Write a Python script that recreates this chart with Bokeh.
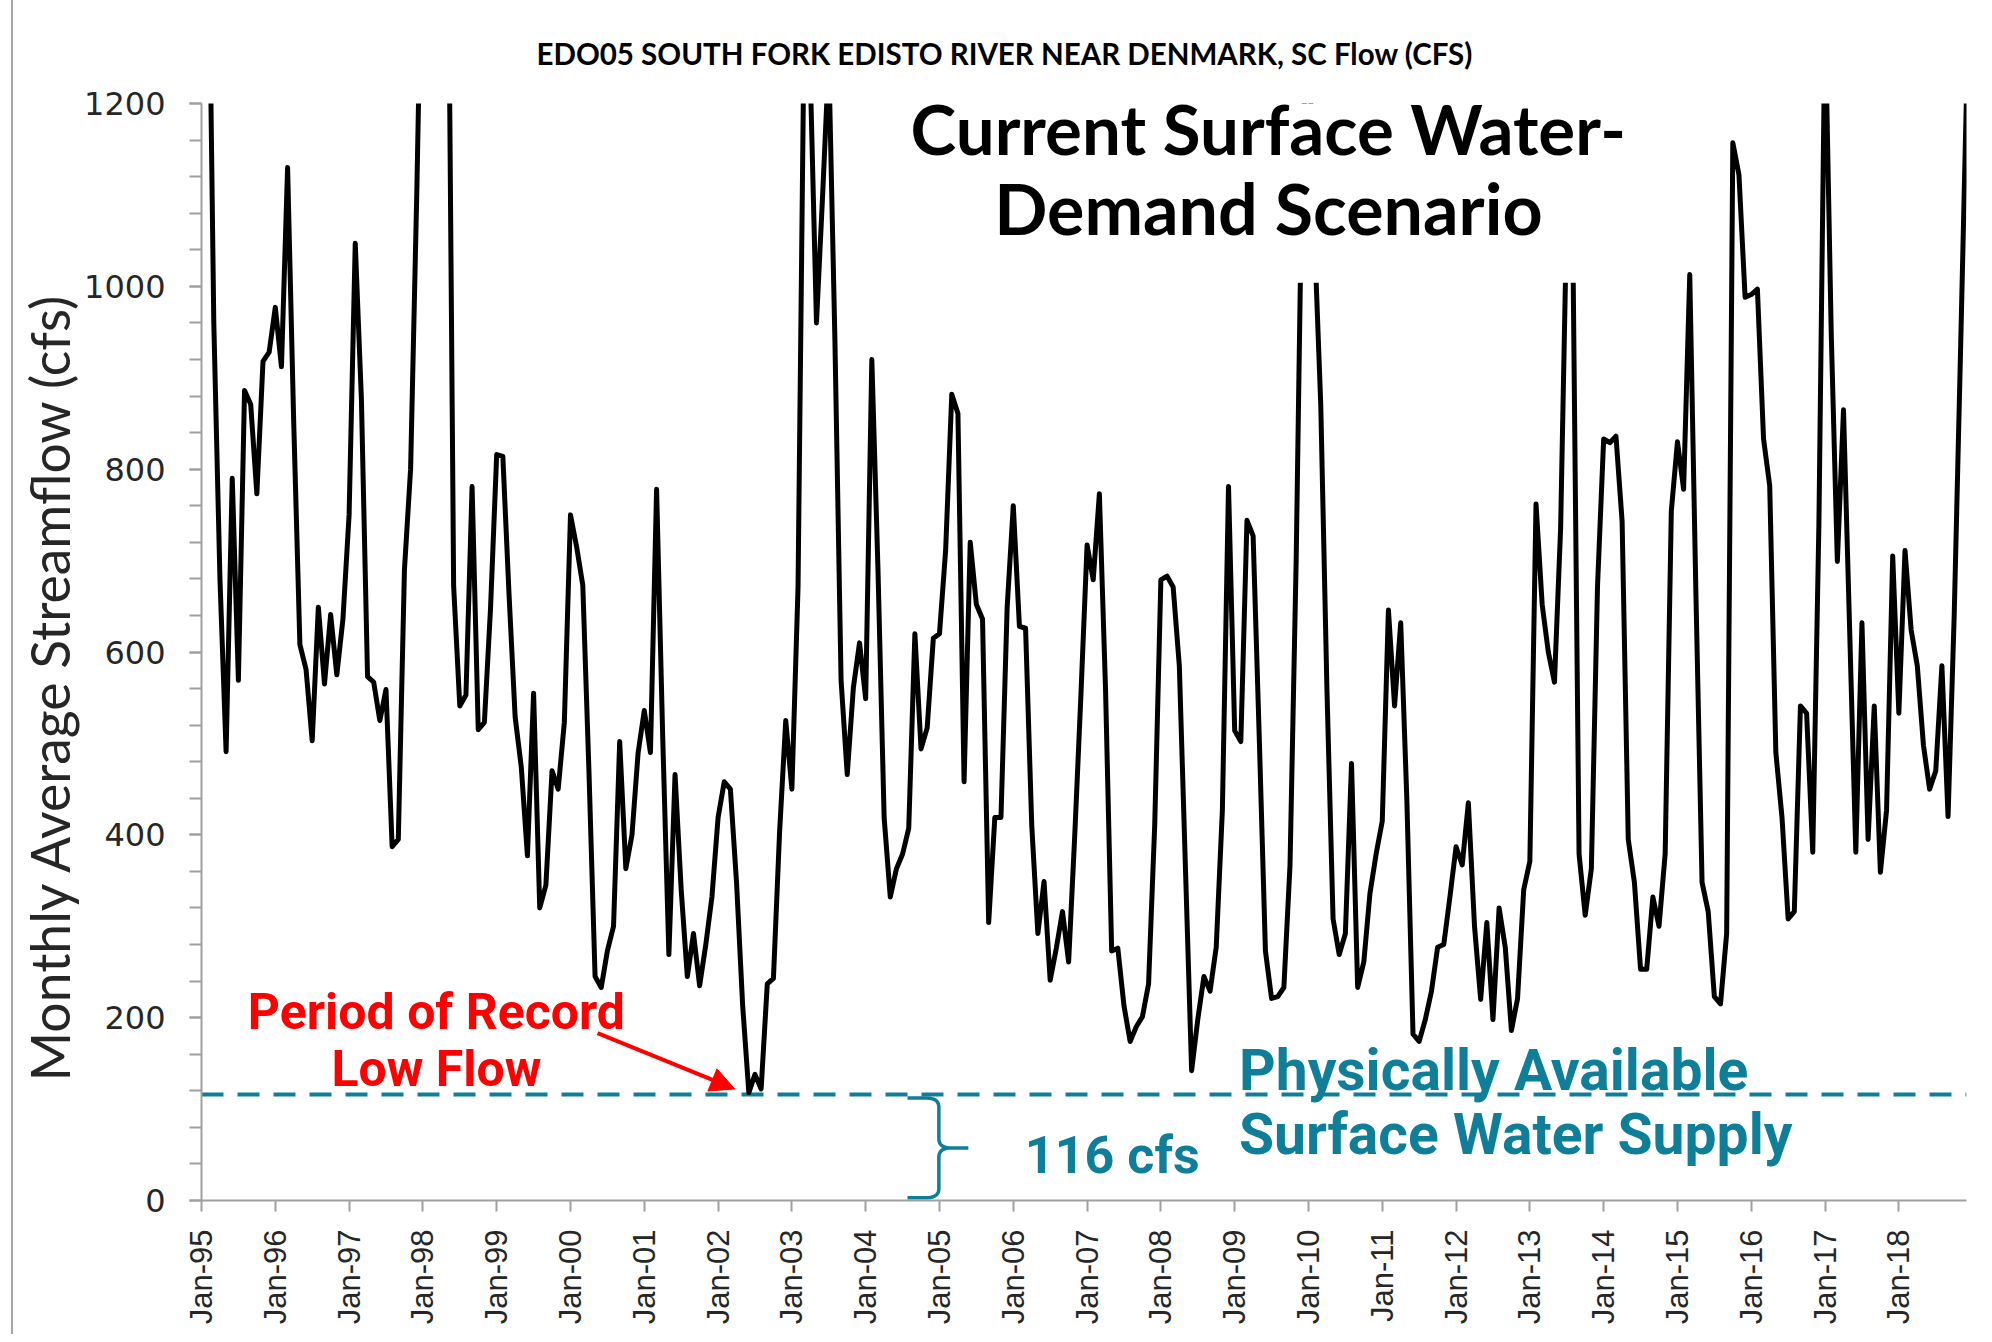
import math
import numpy as np
from bokeh.plotting import figure
from bokeh.models import (Range1d, SingleIntervalTicker, FixedTicker, Label, Arrow,
                          NormalHead, BoxAnnotation, Span, Title)
from bokeh.embed import file_html
from bokeh.resources import INLINE

# ---- data (monthly average streamflow, cfs, Jan-1995 .. Dec-2018) ----
flow_cfs = [
    1700, 1480, 960, 680, 491, 790, 569, 886, 871, 773, 918, 928,      # 1995
    977, 912, 1130, 850, 608, 581, 503, 649, 565, 641, 575, 636,       # 1996
    750, 1047, 877, 573, 567, 525, 559, 387, 395, 690, 800, 1100,      # 1997
    1450, 1900, 2100, 1800, 1500, 672, 541, 553, 781, 515, 523, 648,   # 1998
    816, 814, 664, 529, 474, 377, 555, 320, 345, 470, 450, 523,        # 1999
    750, 715, 673, 470, 245, 233, 273, 300, 502, 363, 400, 490,        # 2000
    536, 490, 778, 506, 269, 466, 340, 245, 292, 235, 280, 332,        # 2001
    419, 458, 450, 348, 213, 118, 138, 122, 237, 243, 403, 525,        # 2002
    450, 671, 1290, 1230, 960, 1100, 1250, 940, 569, 466, 561, 610,    # 2003
    549, 920, 690, 419, 332, 363, 379, 407, 620, 494, 517, 615,        # 2004
    620, 711, 882, 861, 458, 720, 652, 636, 304, 419, 419, 648,        # 2005
    760, 628, 626, 411, 292, 349, 241, 276, 316, 261, 400, 553,        # 2006
    717, 679, 773, 560, 273, 276, 213, 174, 190, 201, 237, 411,        # 2007
    679, 683, 671, 585, 363, 142, 198, 245, 229, 277, 427, 781,        # 2008
    514, 502, 744, 727, 506, 273, 221, 223, 233, 367, 700, 1150,       # 2009
    1300, 1050, 870, 560, 308, 269, 292, 478, 233, 261, 336, 379,      # 2010
    415, 646, 541, 632, 438, 182, 174, 198, 229, 277, 280, 332,        # 2011
    387, 367, 435, 300, 220, 304, 198, 320, 277, 186, 221, 340,        # 2012
    371, 762, 652, 600, 567, 735, 1080, 1040, 379, 312, 363, 672,      # 2013
    833, 829, 836, 743, 395, 348, 253, 253, 332, 300, 379, 754,        # 2014
    830, 778, 1013, 664, 348, 316, 223, 215, 292, 1157, 1122, 988,     # 2015
    991, 997, 833, 782, 490, 419, 308, 316, 541, 533, 381, 740,        # 2016
    1300, 950, 699, 865, 624, 381, 632, 395, 541, 359, 427, 705,       # 2017
    533, 711, 624, 585, 498, 450, 470, 585, 420, 640, 920, 1210,       # 2018
]
month_index = list(range(len(flow_cfs)))

year_tick_labels = ["Jan-95", "Jan-96", "Jan-97", "Jan-98", "Jan-99", "Jan-00",
                    "Jan-01", "Jan-02", "Jan-03", "Jan-04", "Jan-05", "Jan-06",
                    "Jan-07", "Jan-08", "Jan-09", "Jan-10", "Jan-11", "Jan-12",
                    "Jan-13", "Jan-14", "Jan-15", "Jan-16", "Jan-17", "Jan-18"]
year_tick_months = [12 * i for i in range(len(year_tick_labels))]

supply_cfs = 116
y_max = 1200

TEAL = "#0f7f99"
RED = "#ff0000"
AXIS_GREY = "#a0a0a0"

p = figure(width=1971, height=1334, output_backend="svg", toolbar_location=None,
           x_range=Range1d(0, len(flow_cfs) - 1), y_range=Range1d(0, y_max),
           min_border_left=188, min_border_right=18, min_border_top=103,
           min_border_bottom=134,
           title="EDO05 SOUTH FORK EDISTO RIVER NEAR DENMARK, SC Flow (CFS)")
p.styles = {"margin-left": "11px", "border-left": "2px solid #a6a6a6"}
p.grid.visible = False
p.outline_line_color = None
p.background_fill_color = "white"
p.border_fill_color = "white"

p.title.text_font = "Lato"
p.title.text_font_style = "bold"
p.title.text_font_size = "29.5px"
p.title.text_color = "black"
p.title.align = "left"
p.title.offset = 335
p.title.standoff = 66

# y axis
ya = p.yaxis[0]
ya.ticker = SingleIntervalTicker(interval=200, num_minor_ticks=5)
ya.axis_line_color = AXIS_GREY
ya.axis_line_width = 2
ya.major_tick_line_color = AXIS_GREY
ya.major_tick_line_width = 2
ya.minor_tick_line_color = AXIS_GREY
ya.minor_tick_line_width = 2
ya.major_tick_in = 0
ya.major_tick_out = 12
ya.minor_tick_in = 0
ya.minor_tick_out = 12
ya.major_label_text_font = "DejaVu Sans"
ya.major_label_text_font_size = "32px"
ya.major_label_text_color = "#262626"
ya.major_label_standoff = 24

# y axis title, set slightly below centre as in the reference
p.add_layout(Title(text="Monthly Average Streamflow (cfs)", align="left", offset=119,
                   standoff=2, text_font="Lato", text_font_style="normal",
                   text_font_size="53.5px", text_color="#262626"), "left")

# x axis
xa = p.xaxis[0]
xa.ticker = FixedTicker(ticks=year_tick_months)
xa.major_label_overrides = {m: lab for m, lab in zip(year_tick_months, year_tick_labels)}
xa.major_label_orientation = math.pi / 2
xa.axis_line_color = AXIS_GREY
xa.axis_line_width = 2
xa.major_tick_line_color = AXIS_GREY
xa.major_tick_line_width = 2
xa.major_tick_in = 0
xa.major_tick_out = 11
xa.minor_tick_line_color = None
xa.major_label_text_font = "Liberation Sans"
xa.major_label_text_font_size = "31px"
xa.major_label_text_color = "#262626"
xa.major_label_standoff = 18

# supply threshold (dashed)
p.add_layout(Span(location=supply_cfs, dimension="width", line_color=TEAL,
                  line_width=4, line_dash="22 14", level="underlay"))

# streamflow line
p.line(month_index, flow_cfs, line_color="black", line_width=5, line_join="round")

# white box behind the scenario heading
p.add_layout(BoxAnnotation(left=112, right=233, bottom=1004, top=y_max,
                           fill_color="white", fill_alpha=1.0, line_color=None))
p.add_layout(Label(x=173.5, y=1173, text="Current Surface Water-", text_align="center",
                   text_baseline="middle", text_font="Lato", text_font_style="bold",
                   text_font_size="69px", text_color="black"))
p.add_layout(Label(x=173.5, y=1086, text="Demand Scenario", text_align="center",
                   text_baseline="middle", text_font="Lato", text_font_style="bold",
                   text_font_size="70px", text_color="black"))

# record low annotation
p.add_layout(Label(x=38.2, y=206, text="Period of Record", text_align="center",
                   text_baseline="middle", text_font="Roboto", text_font_style="bold",
                   text_font_size="50px", text_color=RED))
p.add_layout(Label(x=38.2, y=144, text="Low Flow", text_align="center",
                   text_baseline="middle", text_font="Roboto", text_font_style="bold",
                   text_font_size="50px", text_color=RED))
p.add_layout(Arrow(end=NormalHead(size=24, fill_color=RED, line_color=RED),
                   x_start=64.4, y_start=183, x_end=86.7, y_end=122,
                   line_color=RED, line_width=4))

# supply annotation
p.add_layout(Label(x=168.7, y=142.7, text="Physically Available", text_align="left",
                   text_baseline="middle", text_font="Roboto", text_font_style="bold",
                   text_font_size="57px", text_color=TEAL))
p.add_layout(Label(x=168.7, y=72.7, text="Surface Water Supply", text_align="left",
                   text_baseline="middle", text_font="Roboto", text_font_style="bold",
                   text_font_size="57px", text_color=TEAL))
p.add_layout(Label(x=148.1, y=48.7, text=f"{supply_cfs} cfs", text_align="center",
                   text_baseline="middle", text_font="Roboto", text_font_style="bold",
                   text_font_size="52px", text_color=TEAL))

# curly brace spanning 0 .. supply
def qbez(a, c, b, n=10):
    t = np.linspace(0, 1, n)
    xs = (1 - t) ** 2 * a[0] + 2 * (1 - t) * t * c[0] + t ** 2 * b[0]
    ys = (1 - t) ** 2 * a[1] + 2 * (1 - t) * t * c[1] + t ** 2 * b[1]
    return list(xs), list(ys)

xl, xs_, xt = 114.8, 119.9, 124.7
ytop, ybot = supply_cfs - 4, 3
ymid = (ytop + ybot) / 2
bx, by = [xl], [ytop]
for seg in [((xs_ - 2, ytop), (xs_, ytop), (xs_, ytop - 10)),
            ((xs_, ymid + 10), (xs_, ymid), (xs_ + 2, ymid))]:
    cx, cy = qbez(*seg)
    bx += cx; by += cy
bx += [xt, xs_ + 2]; by += [ymid, ymid]
for seg in [((xs_ + 2, ymid), (xs_, ymid), (xs_, ymid - 10)),
            ((xs_, ybot + 10), (xs_, ybot), (xs_ - 2, ybot))]:
    cx, cy = qbez(*seg)
    bx += cx; by += cy
bx += [xl]; by += [ybot]
p.line(bx, by, line_color=TEAL, line_width=3.5)

open("out.html", "w").write(file_html(p, INLINE))
